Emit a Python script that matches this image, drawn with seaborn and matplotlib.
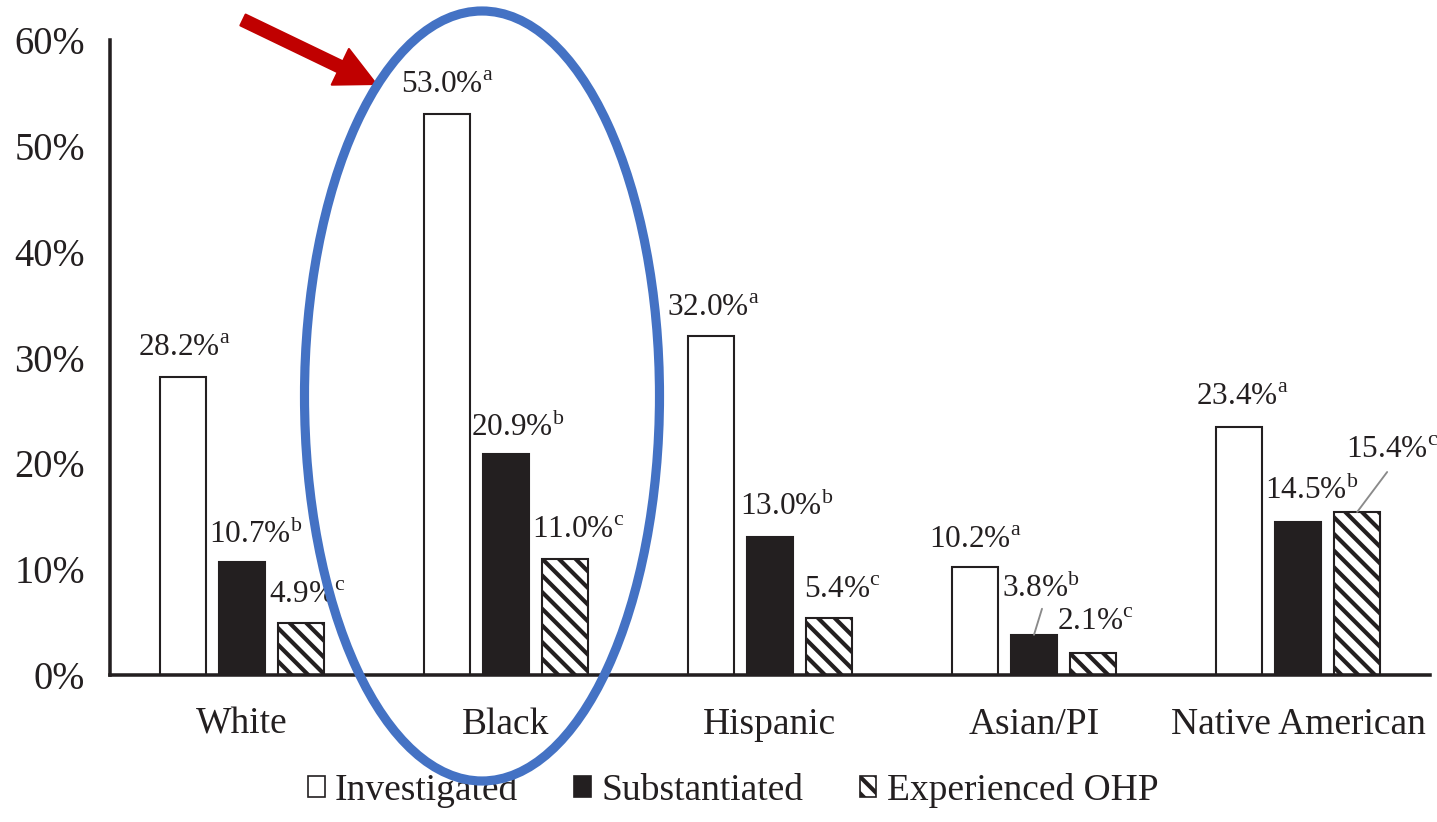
import numpy as np
import pandas as pd
import matplotlib
matplotlib.use("Agg")
import matplotlib.pyplot as plt
import seaborn as sns
from matplotlib.patches import Ellipse, Patch

# ---------------- data ----------------
categories = ["White", "Black", "Hispanic", "Asian/PI", "Native American"]
series = ["Investigated", "Substantiated", "Experienced OHP"]
investigated = [28.2, 53.0, 32.0, 10.2, 23.4]
substantiated = [10.7, 20.9, 13.0, 3.8, 14.5]
experienced_ohp = [4.9, 11.0, 5.4, 2.1, 15.4]
superscripts = ["a", "b", "c"]
y_ticks = [0, 10, 20, 30, 40, 50, 60]
y_tick_labels = ["0%", "10%", "20%", "30%", "40%", "50%", "60%"]

# ---------------- layout (pixels) ----------------
label_dx = [[1, 0, 2, 0, 3], [14, 12, 17, 7, 14], [6, 13, 13, 2, 35]]
label_dy = [[21, 21, 20, 19, 22], [19, 18, 22, 38, 23], [20, 21, 20, 23, 54]]
leaders = {(1, 3): ((8, 26), (1, 1)), (2, 4): ((30, 40), (2, 0))}

DPI = 150
W, H = 1437, 822
INK = "#231f20"
HATCH = "\\" * 3

sns.set_style("white")
plt.rcParams["font.family"] = ["Liberation Serif", "DejaVu Serif"]
plt.rcParams["mathtext.fontset"] = "custom"
plt.rcParams["mathtext.rm"] = "Liberation Serif"
plt.rcParams["hatch.linewidth"] = 2.0
plt.rcParams["text.color"] = INK

df = pd.DataFrame({
    "Race": categories * 3,
    "Group": [s for s in series for _ in categories],
    "Pct": investigated + substantiated + experienced_ohp,
})

fig = plt.figure(figsize=(W / DPI, H / DPI), dpi=DPI)
ax = fig.add_axes([110 / W, 1 - 675 / H, (1430 - 110) / W, (675 - 40) / H])

sns.barplot(data=df, x="Race", y="Pct", hue="Group", order=categories,
            hue_order=series, palette=["white", INK, "white"], saturation=1,
            edgecolor=INK, linewidth=1.0, width=0.672, gap=0.22,
            errorbar=None, legend=False, ax=ax)

for bar in ax.containers[2]:
    bar.set_hatch(HATCH)

ax.set_xlim(-0.5, 4.5)
ax.set_ylim(0, 60)
ax.set_yticks(y_ticks)
ax.set_yticklabels(y_tick_labels, fontsize=18.5, color=INK)
ax.set_xticks(range(len(categories)))
ax.set_xticklabels(categories, fontsize=18, color=INK)
ax.set_xlabel("")
ax.set_ylabel("")
ax.tick_params(axis="both", length=0)
ax.tick_params(axis="y", pad=12)
ax.tick_params(axis="x", pad=15.5)
for side in ["top", "right"]:
    ax.spines[side].set_visible(False)
for side in ["left", "bottom"]:
    ax.spines[side].set_linewidth(1.7)
    ax.spines[side].set_color(INK)

# value labels
for si, cont in enumerate(ax.containers):
    for ci, bar in enumerate(cont):
        x = bar.get_x() + bar.get_width() / 2
        top = bar.get_height()
        txt = f"{top:.1f}%" + r"$^{\mathrm{" + superscripts[si] + "}}$"
        ax.annotate(txt, xy=(x, top), xytext=(label_dx[si][ci], label_dy[si][ci]),
                    textcoords="offset pixels", ha="center", va="baseline",
                    fontsize=15, color=INK, annotation_clip=False)
        if (si, ci) in leaders:
            (sx, sy), (ex, ey) = leaders[(si, ci)]
            ax.annotate("", xy=(x, top), xytext=(sx, sy), textcoords="offset pixels",
                        arrowprops=dict(arrowstyle="-", color="#8a8a8a", lw=0.9,
                                        shrinkA=0, shrinkB=0, relpos=(0.5, 0.5)),
                        annotation_clip=False)

# legend
handles = [
    Patch(facecolor="white", edgecolor=INK, linewidth=0.8),
    Patch(facecolor=INK, edgecolor=INK, linewidth=0.8),
    Patch(facecolor="white", edgecolor=INK, linewidth=0.8, hatch=HATCH),
]
fig.legend(handles, series, loc="center", bbox_to_anchor=(733 / W, 1 - 790 / H),
           ncol=3, frameon=False, fontsize=18, handlelength=0.45, handleheight=0.5,
           handletextpad=0.27, columnspacing=1.5, borderpad=0)

# highlight ellipse and arrow
ell = Ellipse((482 / W, 1 - 396 / H), 355 / W, 770 / H, transform=fig.transFigure,
              fill=False, edgecolor="#4472C4", linewidth=4.4, zorder=10)
fig.add_artist(ell)
ax.annotate("", xy=(376, H - 84), xycoords="figure pixels",
            xytext=(243, H - 20), textcoords="figure pixels",
            arrowprops=dict(arrowstyle="simple,head_length=19,head_width=19,tail_width=5.8",
                            mutation_scale=1, color="#C00000", shrinkA=0, shrinkB=0),
            annotation_clip=False, zorder=11)

fig.savefig("out.png", dpi=DPI)
